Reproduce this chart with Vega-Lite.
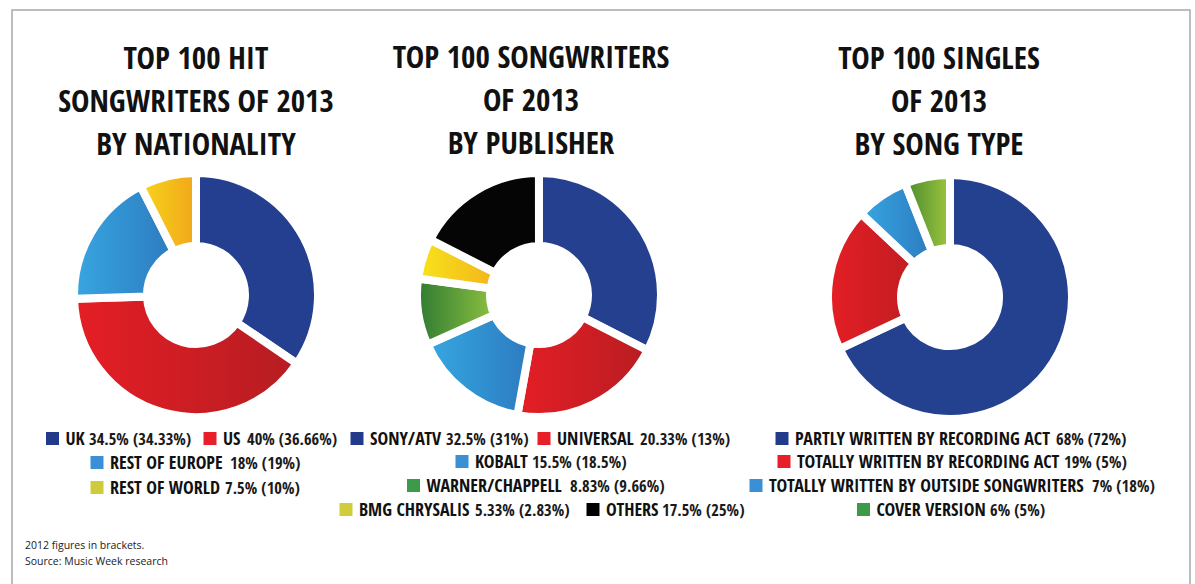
{
  "$schema": "https://vega.github.io/schema/vega-lite/v6.json",
  "width": 1178,
  "height": 574,
  "autosize": {"type": "none"},
  "padding": {"left": 12, "top": 10, "right": 5, "bottom": 0},
  "background": "white",
  "config": {"view": {"stroke": null}},
  "params": [
    {"name": "lay", "value": {
      "UK": [40.5, 435, 77],
      "US": [198, 435, 235],
      "REST OF EUROPE": [85, 459, 218],
      "REST OF WORLD": [85, 484, 213],
      "SONY/ATV": [345, 435, 434],
      "UNIVERSAL": [532, 435, 628],
      "KOBALT": [450, 458, 520],
      "WARNER/CHAPPELL": [401.5, 482, 558],
      "BMG CHRYSALIS": [334, 506, 463],
      "OTHERS": [581, 506, 650],
      "PARTLY WRITTEN BY RECORDING ACT": [770, 435, 1044],
      "TOTALLY WRITTEN BY RECORDING ACT": [772, 458, 1052],
      "TOTALLY WRITTEN BY OUTSIDE SONGWRITERS": [744, 482, 1080],
      "COVER VERSION": [851.5, 506, 978]
    }}
  ],
  "data": {"values": [
    {"chart": "nat", "k": 1, "cat": "UK", "share": 34.5, "prev": 34.33},
    {"chart": "nat", "k": 2, "cat": "US", "share": 40, "prev": 36.66},
    {"chart": "nat", "k": 3, "cat": "REST OF EUROPE", "share": 18, "prev": 19},
    {"chart": "nat", "k": 4, "cat": "REST OF WORLD", "share": 7.5, "prev": 10},
    {"chart": "pub", "k": 1, "cat": "SONY/ATV", "share": 32.5, "prev": 31},
    {"chart": "pub", "k": 2, "cat": "UNIVERSAL", "share": 20.33, "prev": 13},
    {"chart": "pub", "k": 3, "cat": "KOBALT", "share": 15.5, "prev": 18.5},
    {"chart": "pub", "k": 4, "cat": "WARNER/CHAPPELL", "share": 8.83, "prev": 9.66},
    {"chart": "pub", "k": 5, "cat": "BMG CHRYSALIS", "share": 5.33, "prev": 2.83},
    {"chart": "pub", "k": 6, "cat": "OTHERS", "share": 17.5, "prev": 25},
    {"chart": "type", "k": 1, "cat": "PARTLY WRITTEN BY RECORDING ACT", "share": 68, "prev": 72},
    {"chart": "type", "k": 2, "cat": "TOTALLY WRITTEN BY RECORDING ACT", "share": 19, "prev": 5},
    {"chart": "type", "k": 3, "cat": "TOTALLY WRITTEN BY OUTSIDE SONGWRITERS", "share": 7, "prev": 18},
    {"chart": "type", "k": 4, "cat": "COVER VERSION", "share": 6, "prev": 5}
  ]},
  "layer": [
    {
      "data": {"values": [{}]},
      "mark": {"type": "rect", "x": 0, "y": 0, "x2": {"expr": "width"}, "y2": {"expr": "height + 30"}, "fill": null, "fillOpacity": 0, "stroke": "#a8a8a8", "strokeWidth": 1.5},
      "encoding": {}
    },
    {
      "transform": [{"filter": "datum.chart === 'nat'"}],
      "mark": {"type": "arc", "x": 184, "y": 285, "radius": 122, "radius2": 49, "stroke": "white", "strokeWidth": 8},
      "encoding": {
        "theta": {"field": "share", "type": "quantitative", "stack": true},
        "order": {"field": "k", "type": "quantitative"},
        "color": {
          "condition": [
            {"test": "datum.cat === 'US'", "value": {"gradient": "linear", "x1": 0, "y1": 0, "x2": 1, "y2": 0, "stops": [{"offset": 0, "color": "#e51e25"}, {"offset": 1, "color": "#b51d22"}]}},
            {"test": "datum.cat === 'REST OF EUROPE'", "value": {"gradient": "linear", "x1": 0, "y1": 0, "x2": 1, "y2": 0, "stops": [{"offset": 0, "color": "#38a6e1"}, {"offset": 1, "color": "#2c7bbf"}]}},
            {"test": "datum.cat === 'REST OF WORLD'", "value": {"gradient": "linear", "x1": 0, "y1": 0, "x2": 1, "y2": 0, "stops": [{"offset": 0, "color": "#f8d51a"}, {"offset": 1, "color": "#f0a61b"}]}}
          ],
          "field": "cat", "type": "nominal", "legend": null,
          "scale": {
            "domain": ["UK", "US", "REST OF EUROPE", "REST OF WORLD", "SONY/ATV", "UNIVERSAL", "KOBALT", "WARNER/CHAPPELL", "BMG CHRYSALIS", "OTHERS", "PARTLY WRITTEN BY RECORDING ACT", "TOTALLY WRITTEN BY RECORDING ACT", "TOTALLY WRITTEN BY OUTSIDE SONGWRITERS", "COVER VERSION"],
            "range": ["#243f8f", "#d81e25", "#2f8fd3", "#f4bf17", "#25408f", "#d41e24", "#2f8fd3", "#5a9a34", "#f5d016", "#050505", "#24418f", "#d81e25", "#2f8fd3", "#6ca535"]
          }}
      }
    },
    {
      "transform": [{"filter": "datum.chart === 'pub'"}],
      "mark": {"type": "arc", "x": 527, "y": 285, "radius": 122, "radius2": 49, "stroke": "white", "strokeWidth": 8},
      "encoding": {
        "theta": {"field": "share", "type": "quantitative", "stack": true},
        "order": {"field": "k", "type": "quantitative"},
        "color": {
          "condition": [
            {"test": "datum.cat === 'UNIVERSAL'", "value": {"gradient": "linear", "x1": 0, "y1": 0, "x2": 1, "y2": 0, "stops": [{"offset": 0, "color": "#e41e25"}, {"offset": 1, "color": "#b81d22"}]}},
            {"test": "datum.cat === 'KOBALT'", "value": {"gradient": "linear", "x1": 0, "y1": 0, "x2": 1, "y2": 0, "stops": [{"offset": 0, "color": "#36a7e2"}, {"offset": 1, "color": "#2c7bbf"}]}},
            {"test": "datum.cat === 'WARNER/CHAPPELL'", "value": {"gradient": "linear", "x1": 0, "y1": 0, "x2": 1, "y2": 0, "stops": [{"offset": 0, "color": "#2f7a33"}, {"offset": 1, "color": "#8cc03f"}]}},
            {"test": "datum.cat === 'BMG CHRYSALIS'", "value": {"gradient": "linear", "x1": 0, "y1": 0, "x2": 1, "y2": 0, "stops": [{"offset": 0, "color": "#f8e31c"}, {"offset": 1, "color": "#f3b51a"}]}}
          ],
          "field": "cat", "type": "nominal", "legend": null}
      }
    },
    {
      "transform": [{"filter": "datum.chart === 'type'"}],
      "mark": {"type": "arc", "x": 938, "y": 287, "radius": 122, "radius2": 49, "stroke": "white", "strokeWidth": 8},
      "encoding": {
        "theta": {"field": "share", "type": "quantitative", "stack": true},
        "order": {"field": "k", "type": "quantitative"},
        "color": {
          "condition": [
            {"test": "datum.cat === 'TOTALLY WRITTEN BY RECORDING ACT'", "value": {"gradient": "linear", "x1": 0, "y1": 0, "x2": 1, "y2": 0, "stops": [{"offset": 0, "color": "#e51e25"}, {"offset": 1, "color": "#c01d22"}]}},
            {"test": "datum.cat === 'TOTALLY WRITTEN BY OUTSIDE SONGWRITERS'", "value": {"gradient": "linear", "x1": 0, "y1": 0, "x2": 1, "y2": 0, "stops": [{"offset": 0, "color": "#38a6e1"}, {"offset": 1, "color": "#2c7bbf"}]}},
            {"test": "datum.cat === 'COVER VERSION'", "value": {"gradient": "linear", "x1": 0, "y1": 0, "x2": 1, "y2": 0, "stops": [{"offset": 0, "color": "#4a8a2f"}, {"offset": 1, "color": "#9dc63d"}]}}
          ],
          "field": "cat", "type": "nominal", "legend": null}
      }
    },
    {
      "mark": {"type": "square", "size": 169, "opacity": 1,
        "x": {"expr": "lay[datum.cat][0]"},
        "y": {"expr": "lay[datum.cat][1] - 6.5"}},
      "encoding": {
        "fill": {"field": "cat", "type": "nominal", "legend": null,
          "scale": {
            "domain": ["UK", "US", "REST OF EUROPE", "REST OF WORLD", "SONY/ATV", "UNIVERSAL", "KOBALT", "WARNER/CHAPPELL", "BMG CHRYSALIS", "OTHERS", "PARTLY WRITTEN BY RECORDING ACT", "TOTALLY WRITTEN BY RECORDING ACT", "TOTALLY WRITTEN BY OUTSIDE SONGWRITERS", "COVER VERSION"],
            "range": ["#213b8a", "#e61f29", "#3a8fd5", "#d0cb3b", "#213b8a", "#e61f29", "#3a8fd5", "#3d9a48", "#d1cd3a", "#000000", "#213b8a", "#e61f29", "#3a8fd5", "#3d9a48"]
          }}
      }
    },
    {
      "mark": {"type": "text", "align": "left", "baseline": "alphabetic",
        "font": "Open Sans Condensed, Noto Sans Condensed, Roboto Condensed, Roboto, sans-serif", "fontWeight": "bold", "fontSize": 18, "color": "#111111",
        "x": {"expr": "lay[datum.cat][0] + 13"},
        "y": {"expr": "lay[datum.cat][1]"}},
      "encoding": {"text": {"field": "cat", "type": "nominal"}}
    },
    {
      "mark": {"type": "text", "align": "left", "baseline": "alphabetic",
        "font": "Open Sans Condensed, Noto Sans Condensed, Roboto Condensed, Roboto, sans-serif", "fontSize": 16.5, "color": "#1a1a1a",
        "x": {"expr": "lay[datum.cat][2]"},
        "y": {"expr": "lay[datum.cat][1]"},
        "text": {"expr": "datum.share + '% (' + datum.prev + '%)'"}},
      "encoding": {}
    },
    {
      "data": {"values": [{}]},
      "mark": {"type": "text", "align": "center", "baseline": "alphabetic", "font": "Open Sans Condensed, Noto Sans Condensed, Roboto Condensed, Roboto, sans-serif", "fontWeight": "bold", "fontSize": 31, "lineHeight": 43, "color": "#111111",
        "x": 184, "y": 59, "text": ["TOP 100 HIT", "SONGWRITERS OF 2013", "BY NATIONALITY"]},
      "encoding": {}
    },
    {
      "data": {"values": [{}]},
      "mark": {"type": "text", "align": "center", "baseline": "alphabetic", "font": "Open Sans Condensed, Noto Sans Condensed, Roboto Condensed, Roboto, sans-serif", "fontWeight": "bold", "fontSize": 31, "lineHeight": 43, "color": "#111111",
        "x": 519, "y": 58, "text": ["TOP 100 SONGWRITERS", "OF 2013", "BY PUBLISHER"]},
      "encoding": {}
    },
    {
      "data": {"values": [{}]},
      "mark": {"type": "text", "align": "center", "baseline": "alphabetic", "font": "Open Sans Condensed, Noto Sans Condensed, Roboto Condensed, Roboto, sans-serif", "fontWeight": "bold", "fontSize": 31, "lineHeight": 43, "color": "#111111",
        "x": 927, "y": 59, "text": ["TOP 100 SINGLES", "OF 2013", "BY SONG TYPE"]},
      "encoding": {}
    },
    {
      "data": {"values": [{}]},
      "mark": {"type": "text", "align": "left", "baseline": "alphabetic", "font": "Open Sans", "fontSize": 10.5, "lineHeight": 16, "color": "#222222",
        "x": 13, "y": 539, "text": ["2012 figures in brackets.", "Source: Music Week research"]},
      "encoding": {}
    }
  ]
}
